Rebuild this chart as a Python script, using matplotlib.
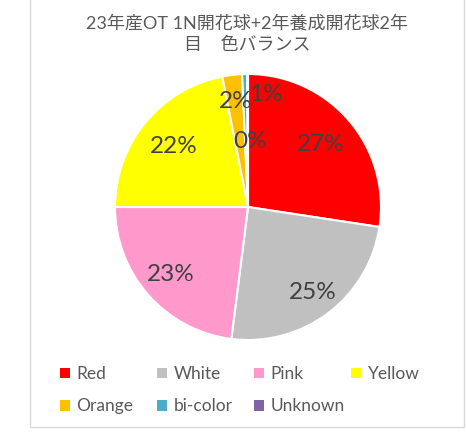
import matplotlib.pyplot as plt
from matplotlib.patches import Rectangle
import numpy as np

plt.rcParams['font.family'] = ['Lato', 'Noto Sans CJK JP', 'DejaVu Sans']

# Data (percent shares)
categories = ['Red', 'White', 'Pink', 'Yellow', 'Orange', 'bi-color', 'Unknown']
shares = [27.4, 24.6, 23.0, 21.9, 2.4, 0.6, 0.1]
colors = ['#FF0000', '#C0C0C0', '#FF99CC', '#FFFF00', '#FFC000', '#4BACC6', '#8064A2']
title = '23年産OT 1N開花球+2年養成開花球2年\n目    色バランス'

# label placement (radius, optional angle override in degrees)
label_r = [0.72, 0.81, 0.77, 0.72, 0.80, 0.86, 0.49]
label_ang = [None, None, None, None, None, 81, 88]

W, H = 466, 433
fig = plt.figure(figsize=(W / 100, H / 100), dpi=100)

# chart border
fig.add_artist(Rectangle((30 / W, 1 - 427 / H), 434 / W, 427 / H + 0.02,
                         transform=fig.transFigure, fill=False,
                         edgecolor='#D9D9D9', linewidth=1))

cx, cy, rad = 248, 207, 133
ax = fig.add_axes([(cx - rad) / W, (H - cy - rad) / H, 2 * rad / W, 2 * rad / H])

wedges, texts, autotexts = ax.pie(
    shares, colors=colors, startangle=90, counterclock=False,
    autopct='%.0f%%', radius=1,
    wedgeprops=dict(edgecolor='white', linewidth=1.5),
    textprops=dict(color='#404040', fontsize=17.5))
ax.set_xlim(-1, 1)
ax.set_ylim(-1, 1)
ax.set_aspect('equal')

for w, t, r, a in zip(wedges, autotexts, label_r, label_ang):
    theta = (w.theta1 + w.theta2) / 2 if a is None else a
    t.set_position((r * np.cos(np.radians(theta)), r * np.sin(np.radians(theta))))
    t.set_ha('center')
    t.set_va('center')

fig.text(247 / W, 1 - 34 / H, title, ha='center', va='center',
         fontsize=13, color='#595959', linespacing=1.45)

# legend: Excel style equal-width columns
columns = [[0, 4], [1, 5], [2, 6], [3]]
col_x = [60, 157, 254, 351]
for idx, x in zip(columns, col_x):
    leg = fig.legend([wedges[i] for i in idx], [categories[i] for i in idx],
                     loc='upper left', bbox_to_anchor=(x / W, 1 - 366 / H),
                     frameon=False, fontsize=12.5, handlelength=0.55,
                     handleheight=0.55, handletextpad=0.4, labelspacing=0.95,
                     borderpad=0, borderaxespad=0, labelcolor='#595959')
    for h in leg.legend_handles:
        h.set_edgecolor('none')

fig.savefig('out.png', dpi=100)
